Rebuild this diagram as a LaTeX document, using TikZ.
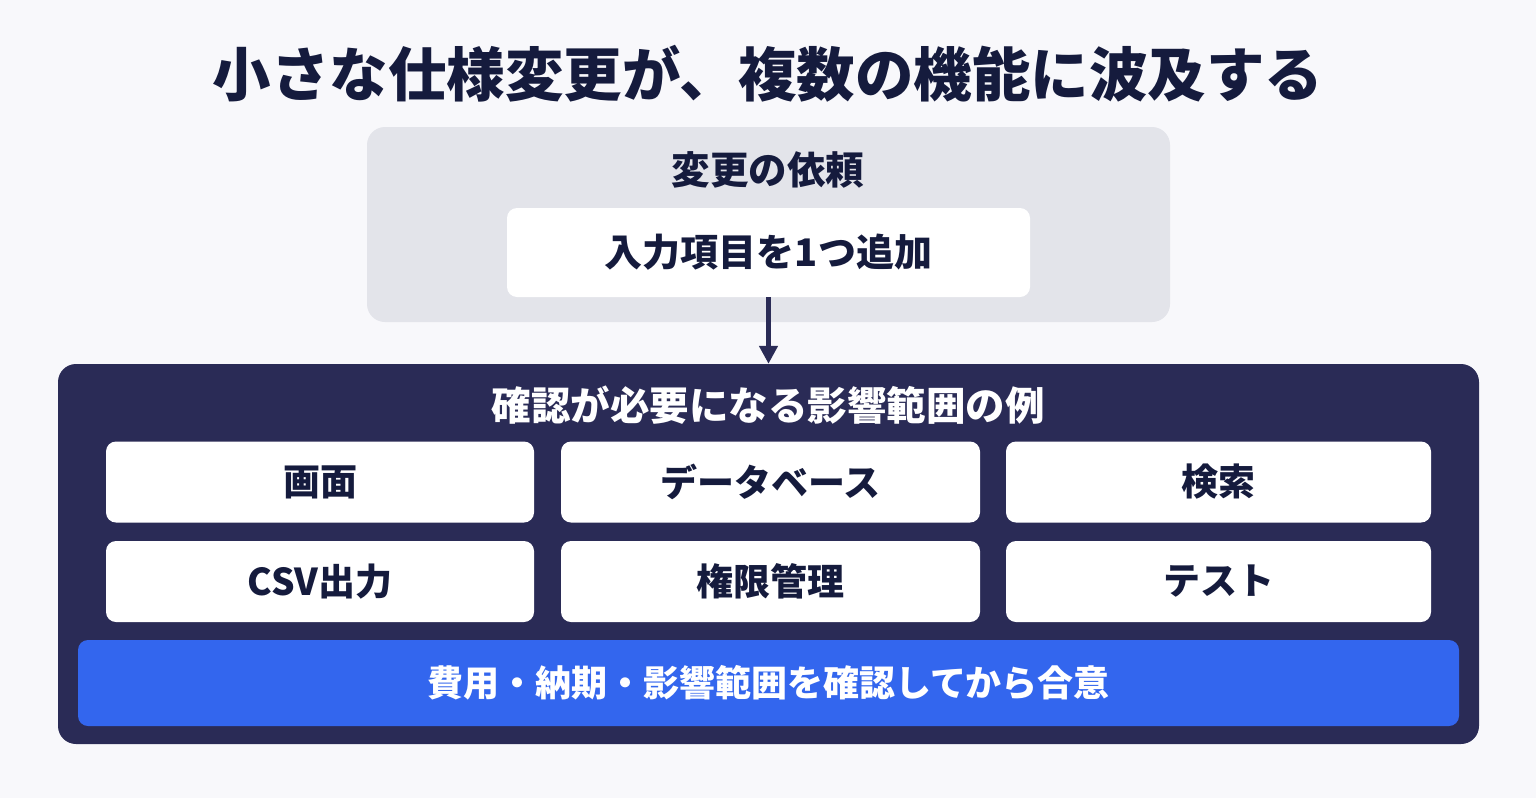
\documentclass[tikz,border=0pt]{standalone}
\usepackage{fontspec}
\usetikzlibrary{arrows.meta}
\setmainfont{Noto Sans CJK JP}
\definecolor{bgc}{HTML}{F8F8FB}
\definecolor{navy}{HTML}{151B3D}
\definecolor{panel}{HTML}{2A2B56}
\definecolor{graybox}{HTML}{E3E4EA}
\definecolor{bluebar}{HTML}{3366EE}
\tikzset{
  fs/.style={font=\bfseries\fontsize{#1}{#1}\selectfont},
  cell/.style={fill=white, rounded corners=10pt, minimum width=#1, minimum height=81pt, text=navy, fs=37, inner sep=0pt},
}
\begin{document}
\begin{tikzpicture}[x=1pt,y=-1pt]
\fill[bgc] (0,0) rectangle (1536,798);
\useasboundingbox (0,0) rectangle (1536,798);
\node[fs=58.5, text=navy] (title) at (768,74) {小さな仕様変更が、複数の機能に波及する};
% request box
\fill[graybox, rounded corners=18pt] (367,127) rectangle (1170,322);
\node[fs=38.5, text=navy] (reqlabel) at (768,170) {変更の依頼};
\node[fill=white, rounded corners=10pt, minimum width=523pt, minimum height=89pt, inner sep=0pt, text=navy, fs=38] (req) at (768.5,252.5) {入力項目を1つ追加};
% panel
\node[fill=panel, rounded corners=18pt, minimum width=1421pt, minimum height=380pt, inner sep=0pt] (panel) at (768.5,554) {};
\node[fs=39.5, text=white] (plabel) at (768,405) {確認が必要になる影響範囲の例};
\draw[panel, line width=4.5pt, -{Triangle[length=18pt,width=18pt]}] (req.south) -- (panel.north);
\node[cell=428pt] (c1) at (320,482) {画面};
\node[cell=419pt] (c2) at (770.5,482) {データベース};
\node[cell=425pt] (c3) at (1218.5,482) {検索};
\node[cell=428pt] (c4) at (320,581.5) {CSV出力};
\node[cell=419pt] (c5) at (770.5,581.5) {権限管理};
\node[cell=425pt] (c6) at (1218.5,581.5) {テスト};
\node[fill=bluebar, rounded corners=10pt, minimum width=1381pt, minimum height=86pt, inner sep=0pt, text=white, fs=36] (bar) at (768.5,683) {費用・納期・影響範囲を確認してから合意};
\end{tikzpicture}
\end{document}
